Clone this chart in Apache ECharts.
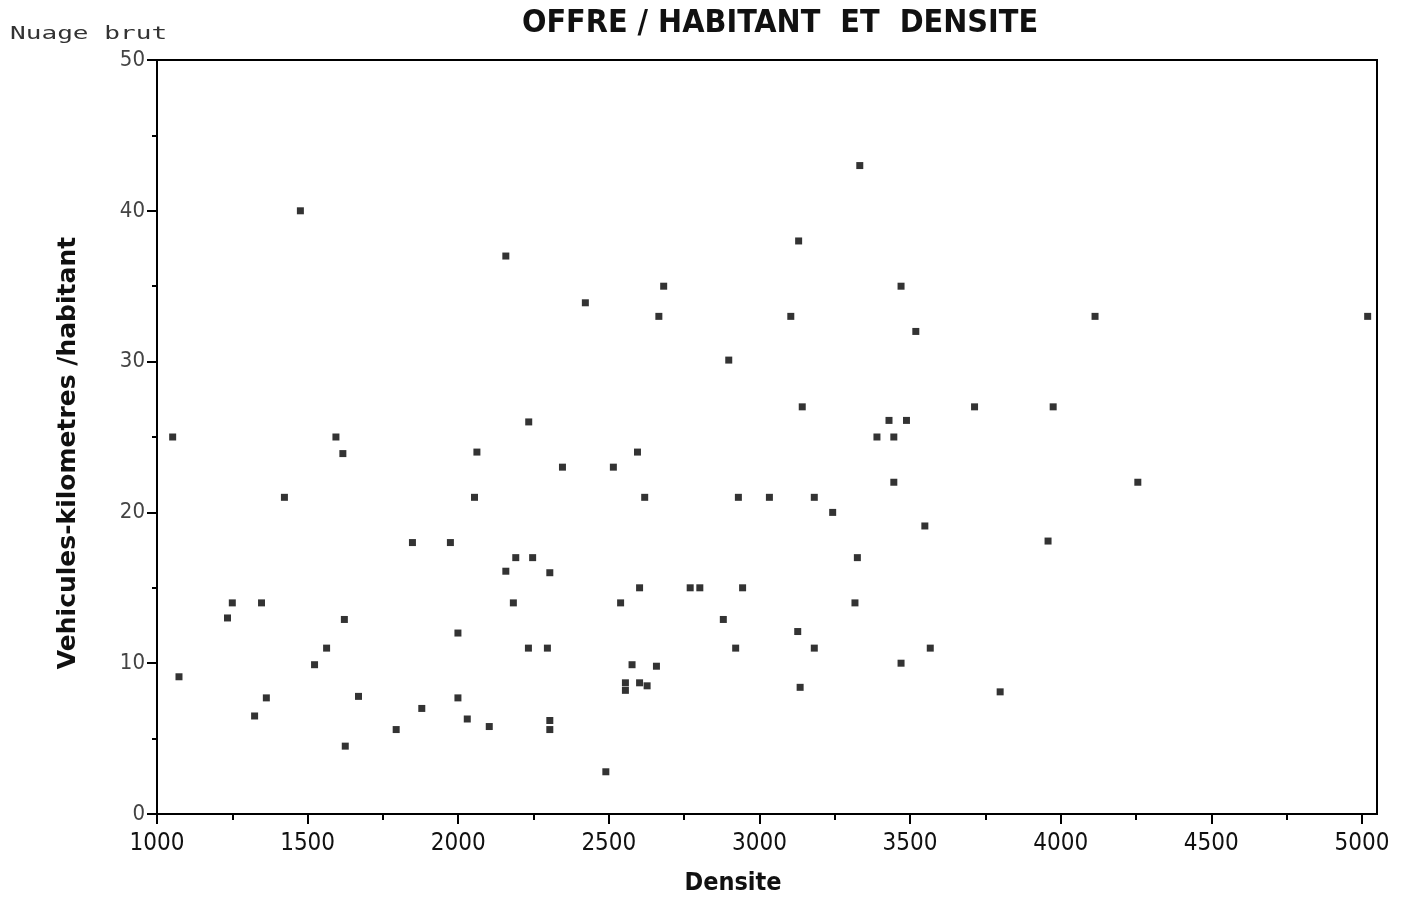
<!DOCTYPE html>
<html>
<head>
<meta charset="utf-8">
<script src="https://cdn.jsdelivr.net/npm/echarts@6/dist/echarts.min.js"></script>
<style>
html,body{margin:0;padding:0;background:#fff;}
#chart{width:1403px;height:901px;}
</style>
</head>
<body>
<div id="chart"></div>
<script>
// Densite (x) and Vehicules-kilometres / habitant (y)
const densite = [
  1073,1423,1250,1234,1347,1363,1324,1523,1563,1622,1669,1625,1848,1974,2054,1794,1879,1999,1999,2030,
  2103,2158,2191,2247,2304,2183,2233,2296,2304,2304,2619,2930,3033,2539,2602,2770,2802,2944,2880,2921,
  2577,2658,2555,2555,2602,2627,2490,
  1476,2158,2682,2422,2666,2898,1052,1594,1617,2062,2234,2346,2515,2595,
  3333,3130,3470,3104,4114,5019,3519,3142,3714,3975,3430,3488,3390,3446,3446,4256,
  3182,3243,3549,3958,3325,3317,3127,3182,3567,3470,3135,3799
];
const vkmHabitant = [
  9.1,21,14,13,14,7.7,6.5,9.9,11,12.9,7.8,4.5,18,18,21,5.6,7,12,7.7,6.3,
  5.8,16.1,17,17,16,14,11,11,6.2,5.6,21,21,21,14,15,15,15,15,12.9,11,
  9.9,9.8,8.7,8.2,8.7,8.5,2.8,
  40,37,35,33.9,33,30.1,25,25,23.9,24,26,23,23,24,
  43,38,35,33,33,33,32,27,27,27,26.1,26.1,25,25,22,22,
  21,20,19.1,18.1,17,14,12.1,11,11,10,8.4,8.1
];
const xMajorTicks = [1000,1500,2000,2500,3000,3500,4000,4500,5000];
const xMinorTicks = [1250,1750,2250,2750,3250,3750,4250,4750];

const points = densite.map((d, i) => [d, vkmHabitant[i]]);

const chart = echarts.init(document.getElementById('chart'));
const narrow = "'Liberation Sans Narrow','DejaVu Sans Condensed',sans-serif";
chart.setOption({
  animation: false,
  backgroundColor: '#fff',
  title: {
    text: 'OFFRE / HABITANT  ET  DENSITE',
    left: 775, top: 3, textAlign: 'center',
    textStyle: {fontFamily: narrow, fontWeight: 'bold', fontSize: 32, color: '#111'}
  },
  graphic: [
    {type: 'text', left: 10, top: 25, scaleX: 1.45,
     style: {text: 'Nuage brut', fontFamily: "'DejaVu Sans Mono',monospace", fontSize: 18, fill: '#333'}},
    {type: 'text', x: 733, y: 883,
     style: {text: 'Densite', fontFamily: narrow, fontWeight: 'bold', fontSize: 25, fill: '#111', align: 'center', verticalAlign: 'middle'}},
    {type: 'text', x: 68, y: 453, rotation: Math.PI / 2,
     style: {text: 'Vehicules-kilometres /habitant', fontFamily: "'DejaVu Sans',sans-serif", fontWeight: 'bold', fontSize: 25, fill: '#111', align: 'center', verticalAlign: 'middle'}}
  ],
  grid: {left: 157, top: 60, right: 26, bottom: 87, show: true, borderColor: '#000', borderWidth: 2, backgroundColor: 'transparent'},
  xAxis: [
    {type: 'value', min: 1000, max: 5050, interval: 500,
     axisLine: {show: true, onZero: false, lineStyle: {color: '#000', width: 2}},
     axisTick: {show: true, inside: false, length: 10, customValues: xMajorTicks, lineStyle: {color: '#000', width: 2}},
     axisLabel: {customValues: xMajorTicks, margin: 18, fontFamily: narrow, fontSize: 24, color: '#111', formatter: v => String(v)},
     splitLine: {show: false}},
    {type: 'value', min: 1000, max: 5050, position: 'bottom', gridIndex: 0,
     axisLine: {show: false},
     axisTick: {show: true, length: 6, customValues: xMinorTicks, lineStyle: {color: '#000', width: 2}},
     axisLabel: {show: false},
     splitLine: {show: false}}
  ],
  yAxis: {
    type: 'value', min: 0, max: 50, interval: 10,
    axisLine: {show: true, onZero: false, lineStyle: {color: '#000', width: 2}},
    axisTick: {show: true, inside: false, length: 10, lineStyle: {color: '#000', width: 2}},
    minorTick: {show: true, splitNumber: 2, length: 5, lineStyle: {color: '#000', width: 2}},
    axisLabel: {margin: 12, fontFamily: narrow, fontSize: 22, color: '#444', formatter: v => String(v)},
    splitLine: {show: false}
  },
  series: [{
    type: 'scatter',
    xAxisIndex: 0,
    data: points,
    symbol: 'rect',
    symbolSize: 7,
    itemStyle: {color: '#000'}
  }]
});
</script>
</body>
</html>
